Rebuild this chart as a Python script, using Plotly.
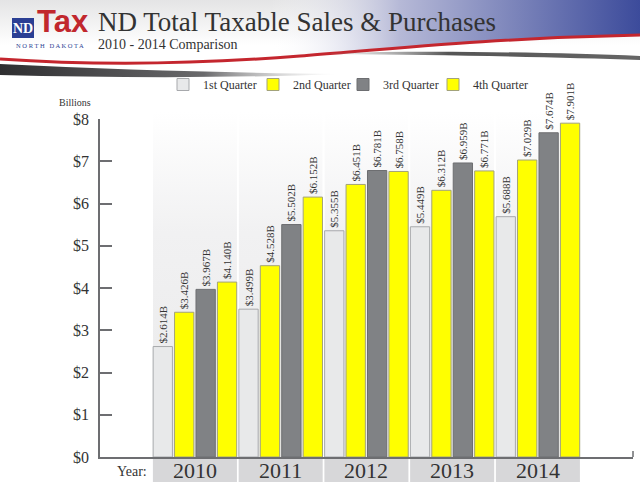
import base64
import plotly.graph_objects as go

# ND taxable sales & purchases, billions of dollars
years = ['2010', '2011', '2012', '2013', '2014']
quarters = ['1st Quarter', '2nd Quarter', '3rd Quarter', '4th Quarter']
q1 = [2.614, 3.499, 5.355, 5.449, 5.688]
q2 = [3.426, 4.528, 6.451, 6.312, 7.029]
q3 = [3.967, 5.502, 6.781, 6.959, 7.674]
q4 = [4.140, 6.152, 6.758, 6.771, 7.901]
y_ticks = [0, 1, 2, 3, 4, 5, 6, 7, 8]
y_labels = ['$0', '$1', '$2', '$3', '$4', '$5', '$6', '$7', '$8']

fills = ['#e8e9ea', '#ffff00', '#808285', '#ffff00']
borders = ['#a7a9ac', '#a3a37a', '#6d6e71', '#a3a37a']

# page geometry in px
W, H = 640, 491
ML, MR, MT, MB = 100, 7, 119, 34
PW = W - ML - MR
PH = H - MT - MB
SERIF = 'Liberation Serif, Times New Roman, serif'


def px(x):
    return (x - ML) / PW


def py(y):
    return (H - MB - y) / PH


def svg_uri(svg):
    return 'data:image/svg+xml;base64,' + base64.b64encode(svg.encode()).decode()


header_svg = """<svg xmlns="http://www.w3.org/2000/svg" width="640" height="95" viewBox="0 0 640 95" preserveAspectRatio="none">
<defs>
<linearGradient id="pg" x1="0" y1="0" x2="0" y2="1"><stop offset="0" stop-color="#e4e4e5"/><stop offset="0.65" stop-color="#ffffff"/></linearGradient>
<linearGradient id="bl" gradientUnits="userSpaceOnUse" x1="270" y1="0" x2="640" y2="0"><stop offset="0" stop-color="#ffffff" stop-opacity="0"/><stop offset="0.35" stop-color="#b6b9d7"/><stop offset="1" stop-color="#3c4b9b"/></linearGradient>
<linearGradient id="sh" gradientUnits="userSpaceOnUse" x1="0" y1="0" x2="340" y2="0"><stop offset="0" stop-color="#2e2e30"/><stop offset="0.6" stop-color="#6a6a6c"/><stop offset="1" stop-color="#d0d0d0" stop-opacity="0"/></linearGradient>
<linearGradient id="sr" gradientUnits="userSpaceOnUse" x1="320" y1="0" x2="640" y2="0"><stop offset="0" stop-color="#999999" stop-opacity="0"/><stop offset="0.4" stop-color="#555555"/><stop offset="1" stop-color="#666666"/></linearGradient>
</defs>
<path d="M0,0 H640 V58 C480,60 300,76 0,66 Z" fill="url(#pg)"/>
<path d="M250,0 H640 V35 C540,36 420,44 300,57 L250,62 Z" fill="url(#bl)"/>
<path d="M0,59 C100,66 200,64 300,56 S500,38 640,35" stroke="#c4262e" stroke-width="3" fill="none"/>
<path d="M0,64 C120,70 240,73 340,74 C240,78 120,78 0,75 Z" fill="url(#sh)"/>
<path d="M330,53 C450,50 560,53 640,56 L640,60 C560,57 450,55 330,54 Z" fill="url(#sr)"/>
</svg>"""

col_svg = """<svg xmlns="http://www.w3.org/2000/svg" width="10" height="100" viewBox="0 0 10 100" preserveAspectRatio="none">
<defs><linearGradient id="g" x1="0" y1="0" x2="0" y2="1"><stop offset="0" stop-color="#ffffff"/><stop offset="0.35" stop-color="#f1f1f2"/><stop offset="1" stop-color="#e9e9ea"/></linearGradient></defs>
<rect width="10" height="100" fill="url(#g)"/></svg>"""

idx = list(range(len(years)))

fig = go.Figure()
for name, vals, fc, lc in zip(quarters, [q1, q2, q3, q4], fills, borders):
    fig.add_trace(go.Bar(
        x=idx, y=vals, name=name,
        marker=dict(color=fc, line=dict(color=lc, width=1)),
        texttemplate='$%{y:.3f}B', textposition='outside', textangle=-90,
        textfont=dict(family=SERIF, size=11, color='#333333'),
        constraintext='none', cliponaxis=False,
    ))
# empty legend slot so the last legend label is not clipped
fig.add_trace(go.Scatter(x=[None], y=[None], mode='none', name=' ', hoverinfo='skip'))

images = [dict(source=svg_uri(header_svg), xref='paper', yref='paper',
               x=px(0), y=py(0), sizex=W / PW, sizey=95 / PH,
               xanchor='left', yanchor='top', sizing='stretch', layer='below')]
shapes = []
for i in idx:
    # gradient column behind every year
    images.append(dict(source=svg_uri(col_svg), xref='x', yref='paper',
                       x=i - 0.49, y=py(112), sizex=0.98, sizey=(H - MB - 112) / PH,
                       xanchor='left', yanchor='top', sizing='stretch', layer='below'))
    # grey year box under the axis
    shapes.append(dict(type='rect', xref='x', yref='paper', x0=i - 0.49, x1=i + 0.49,
                       y0=py(482), y1=py(459), fillcolor='#d7d7d9', line_width=0, layer='below'))
shapes.append(dict(type='line', xref='paper', yref='paper', x0=1, x1=1, y0=0, y1=py(451),
                   line=dict(color='#6d6e71', width=1.5)))
# ND logo box
shapes.append(dict(type='rect', xref='paper', yref='paper', x0=px(12), x1=px(34),
                   y0=py(38), y1=py(18), fillcolor='#2b3f94', line_width=0))

annotations = [
    dict(text='ND Total Taxable Sales &amp; Purchases', x=px(96), y=py(22), xanchor='left', yanchor='middle',
         font=dict(family=SERIF, size=27, color='#333333')),
    dict(text='2010 - 2014 Comparison', x=px(96), y=py(44), xanchor='left', yanchor='middle',
         font=dict(family=SERIF, size=14, color='#333333')),
    dict(text='<b>ND</b>', x=px(23), y=py(28), xanchor='center', yanchor='middle',
         font=dict(family=SERIF, size=14, color='#ffffff')),
    dict(text='<b>Tax</b>', x=px(63), y=py(22), xanchor='center', yanchor='middle',
         font=dict(family='Liberation Sans Narrow, Liberation Sans, sans-serif', size=31, color='#c1272d')),
    dict(text='N O R T H \u00a0 D A K O T A', x=px(50), y=py(46), xanchor='center', yanchor='middle',
         font=dict(family=SERIF, size=6.5, color='#2b3f94')),
    dict(text='Billions', x=px(75), y=py(102), xanchor='center', yanchor='middle',
         font=dict(family=SERIF, size=10, color='#333333')),
    dict(text='Year:', x=px(149), y=py(472), xanchor='right', yanchor='middle',
         font=dict(family=SERIF, size=14, color='#333333')),
]
for i, yr in zip(idx, years):
    annotations.append(dict(text=yr, x=i, xref='x', y=py(470), xanchor='center', yanchor='middle',
                            font=dict(family=SERIF, size=22, color='#333333')))
for a in annotations:
    a.setdefault('xref', 'paper')
    a['yref'] = 'paper'
    a['showarrow'] = False

fig.update_layout(
    width=W, height=H,
    margin=dict(l=ML, r=MR, t=MT, b=MB, pad=0),
    paper_bgcolor='#ffffff', plot_bgcolor='rgba(0,0,0,0)',
    barmode='group', bargap=0, bargroupgap=0.1,
    font=dict(family=SERIF, color='#333333'),
    showlegend=True,
    legend=dict(orientation='h', x=px(163), y=py(70), xanchor='left', yanchor='top',
                entrywidth=45, font=dict(family=SERIF, size=12, color='#333333'),
                bgcolor='rgba(0,0,0,0)', traceorder='normal'),
    xaxis=dict(range=[-1.107, 5.109], showgrid=False, zeroline=False, showticklabels=False,
               ticks='', showline=True, linecolor='#6d6e71', linewidth=1.5),
    yaxis=dict(range=[0, 8], tickvals=y_ticks, ticktext=y_labels, showgrid=False, zeroline=False,
               ticks='inside', ticklen=12, tickwidth=1.5, tickcolor='#6d6e71',
               showline=True, linecolor='#6d6e71', linewidth=1.5, ticklabelstandoff=6,
               tickfont=dict(family=SERIF, size=16, color='#333333')),
    images=images, shapes=shapes, annotations=annotations,
)

# drop the page's default body margin so the chart sits at the window origin
fig.write_html('out.html', config={'displayModeBar': False},
               post_script="document.body.style.margin='0';")
